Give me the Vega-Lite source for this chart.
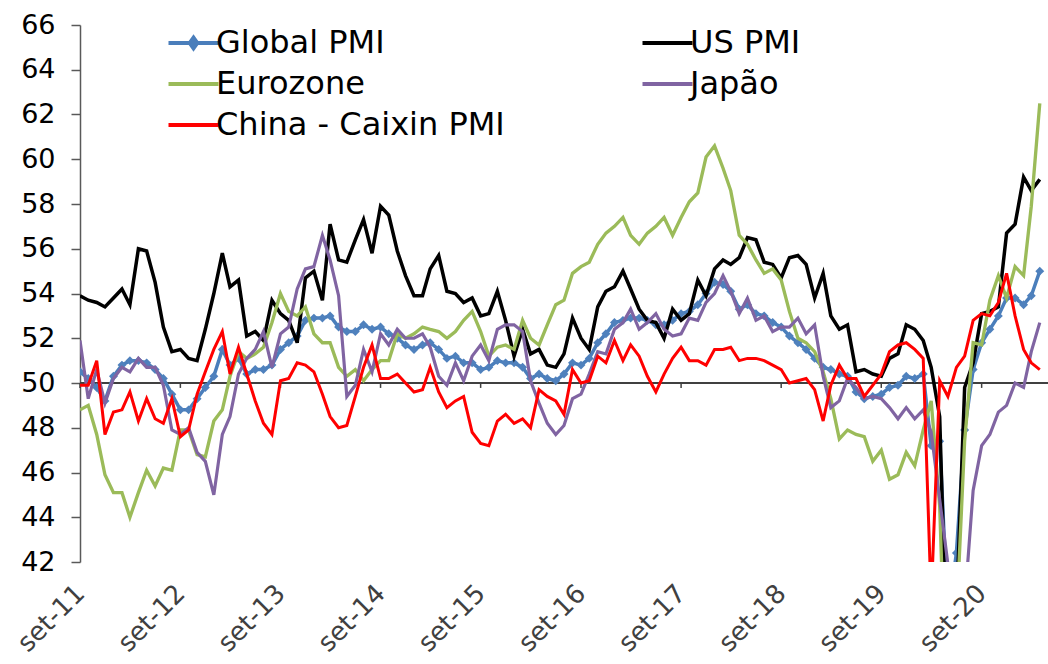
{
  "$schema": "https://vega.github.io/schema/vega-lite/v6.json",
  "width": 968,
  "height": 537,
  "autosize": {"type": "none"},
  "padding": {"left": 80, "top": 25, "right": 0, "bottom": 102},
  "background": "white",
  "config": {"view": {"stroke": null}, "font": "DejaVu Sans"},
  "data": {
    "format": {"parse": {"d": "date"}},
    "values": [
      {"d":"2011-09-01","Global PMI":50.5,"US PMI":53.9,"Eurozone":48.8,"Japão":51.9,"China - Caixin PMI":49.9},
      {"d":"2011-10-01","Global PMI":50.2,"US PMI":53.7,"Eurozone":49.0,"Japão":49.3,"China - Caixin PMI":49.9},
      {"d":"2011-11-01","Global PMI":49.8,"US PMI":53.6,"Eurozone":47.7,"Japão":50.6,"China - Caixin PMI":51.0},
      {"d":"2011-12-01","Global PMI":49.2,"US PMI":53.4,"Eurozone":45.9,"Japão":49.1,"China - Caixin PMI":47.7},
      {"d":"2012-01-01","Global PMI":50.3,"US PMI":53.8,"Eurozone":45.1,"Japão":50.2,"China - Caixin PMI":48.7},
      {"d":"2012-02-01","Global PMI":50.8,"US PMI":54.2,"Eurozone":45.1,"Japão":50.7,"China - Caixin PMI":48.8},
      {"d":"2012-03-01","Global PMI":51.0,"US PMI":53.5,"Eurozone":44.0,"Japão":50.5,"China - Caixin PMI":49.6},
      {"d":"2012-04-01","Global PMI":51.0,"US PMI":56.0,"Eurozone":45.1,"Japão":51.1,"China - Caixin PMI":48.3},
      {"d":"2012-05-01","Global PMI":50.9,"US PMI":55.9,"Eurozone":46.1,"Japão":50.7,"China - Caixin PMI":49.3},
      {"d":"2012-06-01","Global PMI":50.6,"US PMI":54.5,"Eurozone":45.4,"Japão":50.7,"China - Caixin PMI":48.4},
      {"d":"2012-07-01","Global PMI":50.2,"US PMI":52.5,"Eurozone":46.2,"Japão":49.9,"China - Caixin PMI":48.2},
      {"d":"2012-08-01","Global PMI":49.5,"US PMI":51.4,"Eurozone":46.1,"Japão":47.9,"China - Caixin PMI":49.3},
      {"d":"2012-09-01","Global PMI":48.8,"US PMI":51.5,"Eurozone":47.9,"Japão":47.7,"China - Caixin PMI":47.6},
      {"d":"2012-10-01","Global PMI":48.8,"US PMI":51.1,"Eurozone":47.9,"Japão":48.0,"China - Caixin PMI":47.9},
      {"d":"2012-11-01","Global PMI":49.3,"US PMI":51.0,"Eurozone":46.8,"Japão":46.9,"China - Caixin PMI":49.5},
      {"d":"2012-12-01","Global PMI":49.8,"US PMI":52.4,"Eurozone":46.7,"Japão":46.5,"China - Caixin PMI":50.5},
      {"d":"2013-01-01","Global PMI":50.3,"US PMI":54.0,"Eurozone":48.3,"Japão":45.0,"China - Caixin PMI":51.5},
      {"d":"2013-02-01","Global PMI":51.5,"US PMI":55.8,"Eurozone":48.8,"Japão":47.7,"China - Caixin PMI":52.3},
      {"d":"2013-03-01","Global PMI":50.8,"US PMI":54.3,"Eurozone":50.3,"Japão":48.5,"China - Caixin PMI":50.4},
      {"d":"2013-04-01","Global PMI":51.1,"US PMI":54.6,"Eurozone":51.4,"Japão":50.4,"China - Caixin PMI":51.6},
      {"d":"2013-05-01","Global PMI":50.4,"US PMI":52.1,"Eurozone":51.1,"Japão":51.1,"China - Caixin PMI":50.4},
      {"d":"2013-06-01","Global PMI":50.6,"US PMI":52.3,"Eurozone":51.3,"Japão":51.5,"China - Caixin PMI":49.2},
      {"d":"2013-07-01","Global PMI":50.6,"US PMI":51.9,"Eurozone":51.6,"Japão":52.3,"China - Caixin PMI":48.2},
      {"d":"2013-08-01","Global PMI":50.8,"US PMI":53.7,"Eurozone":52.7,"Japão":50.7,"China - Caixin PMI":47.7},
      {"d":"2013-09-01","Global PMI":51.5,"US PMI":53.1,"Eurozone":54.0,"Japão":52.2,"China - Caixin PMI":50.1},
      {"d":"2013-10-01","Global PMI":51.8,"US PMI":52.8,"Eurozone":53.2,"Japão":52.5,"China - Caixin PMI":50.2},
      {"d":"2013-11-01","Global PMI":52.1,"US PMI":51.8,"Eurozone":53.0,"Japão":54.2,"China - Caixin PMI":50.9},
      {"d":"2013-12-01","Global PMI":52.8,"US PMI":54.7,"Eurozone":53.4,"Japão":55.1,"China - Caixin PMI":50.8},
      {"d":"2014-01-01","Global PMI":52.9,"US PMI":55.0,"Eurozone":52.2,"Japão":55.2,"China - Caixin PMI":50.5},
      {"d":"2014-02-01","Global PMI":52.9,"US PMI":53.7,"Eurozone":51.8,"Japão":56.6,"China - Caixin PMI":49.5},
      {"d":"2014-03-01","Global PMI":53.0,"US PMI":57.1,"Eurozone":51.8,"Japão":55.5,"China - Caixin PMI":48.5},
      {"d":"2014-04-01","Global PMI":52.5,"US PMI":55.5,"Eurozone":50.7,"Japão":53.9,"China - Caixin PMI":48.0},
      {"d":"2014-05-01","Global PMI":52.3,"US PMI":55.4,"Eurozone":50.3,"Japão":49.4,"China - Caixin PMI":48.1},
      {"d":"2014-06-01","Global PMI":52.3,"US PMI":56.4,"Eurozone":50.6,"Japão":49.9,"China - Caixin PMI":49.4},
      {"d":"2014-07-01","Global PMI":52.6,"US PMI":57.3,"Eurozone":50.1,"Japão":51.5,"China - Caixin PMI":50.7},
      {"d":"2014-08-01","Global PMI":52.4,"US PMI":55.8,"Eurozone":50.6,"Japão":50.5,"China - Caixin PMI":51.7},
      {"d":"2014-09-01","Global PMI":52.5,"US PMI":57.9,"Eurozone":51.0,"Japão":52.2,"China - Caixin PMI":50.2},
      {"d":"2014-10-01","Global PMI":52.2,"US PMI":57.5,"Eurozone":51.0,"Japão":51.7,"China - Caixin PMI":50.2},
      {"d":"2014-11-01","Global PMI":52.0,"US PMI":55.9,"Eurozone":52.2,"Japão":52.4,"China - Caixin PMI":50.4},
      {"d":"2014-12-01","Global PMI":51.7,"US PMI":54.8,"Eurozone":52.0,"Japão":52.0,"China - Caixin PMI":50.0},
      {"d":"2015-01-01","Global PMI":51.5,"US PMI":53.9,"Eurozone":52.2,"Japão":52.0,"China - Caixin PMI":49.6},
      {"d":"2015-02-01","Global PMI":51.7,"US PMI":53.9,"Eurozone":52.5,"Japão":52.2,"China - Caixin PMI":49.7},
      {"d":"2015-03-01","Global PMI":51.8,"US PMI":55.1,"Eurozone":52.4,"Japão":51.6,"China - Caixin PMI":50.7},
      {"d":"2015-04-01","Global PMI":51.5,"US PMI":55.7,"Eurozone":52.3,"Japão":50.3,"China - Caixin PMI":49.6},
      {"d":"2015-05-01","Global PMI":51.1,"US PMI":54.1,"Eurozone":52.0,"Japão":49.9,"China - Caixin PMI":48.9},
      {"d":"2015-06-01","Global PMI":51.2,"US PMI":54.0,"Eurozone":52.3,"Japão":50.9,"China - Caixin PMI":49.2},
      {"d":"2015-07-01","Global PMI":50.9,"US PMI":53.6,"Eurozone":52.8,"Japão":50.1,"China - Caixin PMI":49.4},
      {"d":"2015-08-01","Global PMI":50.9,"US PMI":53.8,"Eurozone":53.2,"Japão":51.2,"China - Caixin PMI":47.8},
      {"d":"2015-09-01","Global PMI":50.6,"US PMI":53.0,"Eurozone":52.3,"Japão":51.7,"China - Caixin PMI":47.3},
      {"d":"2015-10-01","Global PMI":50.7,"US PMI":53.1,"Eurozone":51.2,"Japão":51.0,"China - Caixin PMI":47.2},
      {"d":"2015-11-01","Global PMI":51.0,"US PMI":54.1,"Eurozone":51.6,"Japão":52.4,"China - Caixin PMI":48.3},
      {"d":"2015-12-01","Global PMI":50.9,"US PMI":52.8,"Eurozone":51.7,"Japão":52.6,"China - Caixin PMI":48.6},
      {"d":"2016-01-01","Global PMI":50.9,"US PMI":51.2,"Eurozone":51.5,"Japão":52.6,"China - Caixin PMI":48.2},
      {"d":"2016-02-01","Global PMI":50.7,"US PMI":52.4,"Eurozone":52.8,"Japão":52.3,"China - Caixin PMI":48.4},
      {"d":"2016-03-01","Global PMI":50.2,"US PMI":51.3,"Eurozone":52.0,"Japão":50.1,"China - Caixin PMI":48.0},
      {"d":"2016-04-01","Global PMI":50.4,"US PMI":51.5,"Eurozone":51.7,"Japão":49.1,"China - Caixin PMI":49.7},
      {"d":"2016-05-01","Global PMI":50.2,"US PMI":50.8,"Eurozone":52.6,"Japão":48.2,"China - Caixin PMI":49.4},
      {"d":"2016-06-01","Global PMI":50.1,"US PMI":50.7,"Eurozone":53.5,"Japão":47.7,"China - Caixin PMI":49.2},
      {"d":"2016-07-01","Global PMI":50.4,"US PMI":51.3,"Eurozone":53.7,"Japão":48.1,"China - Caixin PMI":48.6},
      {"d":"2016-08-01","Global PMI":50.9,"US PMI":52.9,"Eurozone":54.9,"Japão":49.3,"China - Caixin PMI":50.6},
      {"d":"2016-09-01","Global PMI":50.8,"US PMI":52.0,"Eurozone":55.2,"Japão":49.5,"China - Caixin PMI":50.0},
      {"d":"2016-10-01","Global PMI":51.1,"US PMI":51.5,"Eurozone":55.4,"Japão":50.4,"China - Caixin PMI":50.1},
      {"d":"2016-11-01","Global PMI":51.8,"US PMI":53.4,"Eurozone":56.2,"Japão":51.4,"China - Caixin PMI":51.2},
      {"d":"2016-12-01","Global PMI":52.2,"US PMI":54.1,"Eurozone":56.7,"Japão":51.3,"China - Caixin PMI":50.9},
      {"d":"2017-01-01","Global PMI":52.7,"US PMI":54.3,"Eurozone":57.0,"Japão":52.4,"China - Caixin PMI":51.9},
      {"d":"2017-02-01","Global PMI":52.8,"US PMI":55.0,"Eurozone":57.4,"Japão":52.7,"China - Caixin PMI":51.0},
      {"d":"2017-03-01","Global PMI":52.9,"US PMI":54.2,"Eurozone":56.6,"Japão":53.3,"China - Caixin PMI":51.7},
      {"d":"2017-04-01","Global PMI":52.9,"US PMI":53.3,"Eurozone":56.2,"Japão":52.4,"China - Caixin PMI":51.2},
      {"d":"2017-05-01","Global PMI":52.8,"US PMI":52.8,"Eurozone":56.7,"Japão":52.7,"China - Caixin PMI":50.3},
      {"d":"2017-06-01","Global PMI":52.6,"US PMI":52.7,"Eurozone":57.0,"Japão":53.1,"China - Caixin PMI":49.6},
      {"d":"2017-07-01","Global PMI":52.6,"US PMI":52.0,"Eurozone":57.4,"Japão":52.4,"China - Caixin PMI":50.4},
      {"d":"2017-08-01","Global PMI":52.8,"US PMI":53.3,"Eurozone":56.6,"Japão":52.1,"China - Caixin PMI":51.1},
      {"d":"2017-09-01","Global PMI":53.1,"US PMI":52.8,"Eurozone":57.4,"Japão":52.2,"China - Caixin PMI":51.6},
      {"d":"2017-10-01","Global PMI":53.2,"US PMI":53.1,"Eurozone":58.1,"Japão":52.9,"China - Caixin PMI":51.0},
      {"d":"2017-11-01","Global PMI":53.5,"US PMI":54.6,"Eurozone":58.5,"Japão":52.8,"China - Caixin PMI":51.0},
      {"d":"2017-12-01","Global PMI":54.0,"US PMI":53.9,"Eurozone":60.1,"Japão":53.6,"China - Caixin PMI":50.8},
      {"d":"2018-01-01","Global PMI":54.5,"US PMI":55.1,"Eurozone":60.6,"Japão":54.0,"China - Caixin PMI":51.5},
      {"d":"2018-02-01","Global PMI":54.4,"US PMI":55.5,"Eurozone":59.6,"Japão":54.8,"China - Caixin PMI":51.5},
      {"d":"2018-03-01","Global PMI":54.1,"US PMI":55.3,"Eurozone":58.6,"Japão":54.1,"China - Caixin PMI":51.6},
      {"d":"2018-04-01","Global PMI":53.3,"US PMI":55.6,"Eurozone":56.6,"Japão":53.1,"China - Caixin PMI":51.0},
      {"d":"2018-05-01","Global PMI":53.5,"US PMI":56.5,"Eurozone":56.2,"Japão":53.8,"China - Caixin PMI":51.1},
      {"d":"2018-06-01","Global PMI":53.1,"US PMI":56.4,"Eurozone":55.5,"Japão":52.8,"China - Caixin PMI":51.1},
      {"d":"2018-07-01","Global PMI":53.0,"US PMI":55.4,"Eurozone":54.9,"Japão":53.0,"China - Caixin PMI":51.0},
      {"d":"2018-08-01","Global PMI":52.7,"US PMI":55.3,"Eurozone":55.1,"Japão":52.3,"China - Caixin PMI":50.8},
      {"d":"2018-09-01","Global PMI":52.5,"US PMI":54.7,"Eurozone":54.6,"Japão":52.5,"China - Caixin PMI":50.6},
      {"d":"2018-10-01","Global PMI":52.1,"US PMI":55.6,"Eurozone":53.2,"Japão":52.5,"China - Caixin PMI":50.0},
      {"d":"2018-11-01","Global PMI":51.8,"US PMI":55.7,"Eurozone":52.0,"Japão":52.9,"China - Caixin PMI":50.1},
      {"d":"2018-12-01","Global PMI":51.5,"US PMI":55.3,"Eurozone":51.8,"Japão":52.2,"China - Caixin PMI":50.2},
      {"d":"2019-01-01","Global PMI":51.1,"US PMI":53.8,"Eurozone":51.4,"Japão":52.6,"China - Caixin PMI":49.7},
      {"d":"2019-02-01","Global PMI":50.7,"US PMI":54.9,"Eurozone":50.5,"Japão":50.3,"China - Caixin PMI":48.3},
      {"d":"2019-03-01","Global PMI":50.6,"US PMI":53.0,"Eurozone":49.3,"Japão":48.9,"China - Caixin PMI":49.9},
      {"d":"2019-04-01","Global PMI":50.4,"US PMI":52.4,"Eurozone":47.5,"Japão":49.2,"China - Caixin PMI":50.8},
      {"d":"2019-05-01","Global PMI":50.3,"US PMI":52.6,"Eurozone":47.9,"Japão":50.2,"China - Caixin PMI":50.2},
      {"d":"2019-06-01","Global PMI":49.6,"US PMI":50.5,"Eurozone":47.7,"Japão":49.8,"China - Caixin PMI":50.2},
      {"d":"2019-07-01","Global PMI":49.3,"US PMI":50.6,"Eurozone":47.6,"Japão":49.3,"China - Caixin PMI":49.4},
      {"d":"2019-08-01","Global PMI":49.4,"US PMI":50.4,"Eurozone":46.5,"Japão":49.4,"China - Caixin PMI":49.9},
      {"d":"2019-09-01","Global PMI":49.5,"US PMI":50.3,"Eurozone":47.0,"Japão":49.3,"China - Caixin PMI":50.4},
      {"d":"2019-10-01","Global PMI":49.8,"US PMI":51.1,"Eurozone":45.7,"Japão":48.9,"China - Caixin PMI":51.4},
      {"d":"2019-11-01","Global PMI":49.9,"US PMI":51.3,"Eurozone":45.9,"Japão":48.4,"China - Caixin PMI":51.7},
      {"d":"2019-12-01","Global PMI":50.3,"US PMI":52.6,"Eurozone":46.9,"Japão":48.9,"China - Caixin PMI":51.8},
      {"d":"2020-01-01","Global PMI":50.2,"US PMI":52.4,"Eurozone":46.3,"Japão":48.4,"China - Caixin PMI":51.5},
      {"d":"2020-02-01","Global PMI":50.4,"US PMI":51.9,"Eurozone":47.9,"Japão":48.8,"China - Caixin PMI":51.1},
      {"d":"2020-03-01","Global PMI":47.2,"US PMI":50.7,"Eurozone":49.2,"Japão":47.8,"China - Caixin PMI":40.3},
      {"d":"2020-04-01","Global PMI":47.4,"US PMI":48.5,"Eurozone":44.5,"Japão":44.8,"China - Caixin PMI":50.1},
      {"d":"2020-05-01","Global PMI":39.6,"US PMI":36.1,"Eurozone":33.4,"Japão":41.9,"China - Caixin PMI":49.4},
      {"d":"2020-06-01","Global PMI":42.4,"US PMI":39.8,"Eurozone":39.4,"Japão":38.4,"China - Caixin PMI":50.7},
      {"d":"2020-07-01","Global PMI":47.9,"US PMI":49.8,"Eurozone":47.4,"Japão":40.1,"China - Caixin PMI":51.2},
      {"d":"2020-08-01","Global PMI":50.6,"US PMI":50.9,"Eurozone":51.8,"Japão":45.2,"China - Caixin PMI":52.8},
      {"d":"2020-09-01","Global PMI":51.8,"US PMI":53.1,"Eurozone":51.7,"Japão":47.2,"China - Caixin PMI":53.1},
      {"d":"2020-10-01","Global PMI":52.4,"US PMI":53.2,"Eurozone":53.7,"Japão":47.7,"China - Caixin PMI":53.0},
      {"d":"2020-11-01","Global PMI":53.0,"US PMI":53.4,"Eurozone":54.8,"Japão":48.7,"China - Caixin PMI":53.6},
      {"d":"2020-12-01","Global PMI":53.8,"US PMI":56.7,"Eurozone":53.8,"Japão":49.0,"China - Caixin PMI":54.9},
      {"d":"2021-01-01","Global PMI":53.8,"US PMI":57.1,"Eurozone":55.2,"Japão":50.0,"China - Caixin PMI":53.0},
      {"d":"2021-02-01","Global PMI":53.5,"US PMI":59.2,"Eurozone":54.8,"Japão":49.8,"China - Caixin PMI":51.5},
      {"d":"2021-03-01","Global PMI":53.9,"US PMI":58.6,"Eurozone":57.9,"Japão":51.4,"China - Caixin PMI":50.9},
      {"d":"2021-04-01","Global PMI":55.0,"US PMI":59.1,"Eurozone":62.5,"Japão":52.7,"China - Caixin PMI":50.6}
    ]
  },
  "transform": [
    {"fold": ["Global PMI", "US PMI", "Eurozone", "Japão", "China - Caixin PMI"], "as": ["k", "v"]}
  ],
  "layer": [
    {
      "mark": {"type": "rule", "color": "#404040", "strokeWidth": 1.5},
      "encoding": {
        "y": {"datum": 50, "type": "quantitative", "scale": {"domain": [42, 66], "nice": false, "zero": false}}
      }
    },
    {
      "transform": [{"filter": "datum.k === 'Global PMI' && utcmonth(datum.d) === 8"}],
      "mark": {"type": "rule", "color": "#404040", "strokeWidth": 1.5},
      "encoding": {
        "x": {"field": "d", "type": "temporal"},
        "y": {"datum": 50, "type": "quantitative"},
        "y2": {"datum": 49.78}
      }
    },
    {
      "transform": [{"filter": "datum.k === 'Global PMI'"}],
      "mark": {"type": "line", "strokeWidth": 3.5, "clip": true},
      "encoding": {
        "x": {
          "field": "d", "type": "temporal",
          "scale": {"type": "utc", "domain": [{"year": 2011, "month": 9, "date": 1, "utc": true}, {"year": 2021, "month": 5, "date": 1, "utc": true}]},
          "axis": {
            "title": null, "grid": false, "domain": false, "ticks": false,
            "values": [
              {"year": 2011, "month": 9, "date": 1, "utc": true},
              {"year": 2012, "month": 9, "date": 1, "utc": true},
              {"year": 2013, "month": 9, "date": 1, "utc": true},
              {"year": 2014, "month": 9, "date": 1, "utc": true},
              {"year": 2015, "month": 9, "date": 1, "utc": true},
              {"year": 2016, "month": 9, "date": 1, "utc": true},
              {"year": 2017, "month": 9, "date": 1, "utc": true},
              {"year": 2018, "month": 9, "date": 1, "utc": true},
              {"year": 2019, "month": 9, "date": 1, "utc": true},
              {"year": 2020, "month": 9, "date": 1, "utc": true}
            ],
            "labelExpr": "'set-' + utcFormat(datum.value, '%y')",
            "labelAngle": -45, "labelAlign": "right", "labelBaseline": "middle",
            "labelPadding": 27, "labelFont": "DejaVu Sans", "labelFontSize": 26,
            "labelColor": "#404040", "labelOverlap": false, "labelFlush": false, "labelBound": false
          }
        },
        "y": {
          "field": "v", "type": "quantitative",
          "scale": {"domain": [42, 66], "nice": false, "zero": false},
          "axis": {
            "title": null, "grid": false,
            "values": [42, 44, 46, 48, 50, 52, 54, 56, 58, 60, 62, 64, 66],
            "domainColor": "#595959", "domainWidth": 1.5,
            "tickColor": "#595959", "tickWidth": 1.5, "tickSize": 9,
            "labelFont": "DejaVu Sans", "labelFontSize": 27, "labelColor": "#000000",
            "labelPadding": 16, "labelFlush": false, "labelOverlap": false
          }
        },
        "color": {
          "field": "k", "type": "nominal",
          "scale": {
            "domain": ["Global PMI", "US PMI", "Eurozone", "Japão", "China - Caixin PMI"],
            "range": ["#4A7EBB", "#000000", "#9BBB59", "#8064A2", "#FF0000"]
          },
          "legend": {
            "title": null, "orient": "none", "legendX": 97.5, "legendY": 2,
            "direction": "horizontal",
            "columns": 2, "columnPadding": 129, "rowPadding": 9, "padding": 0,
            "symbolType": "M-2,0L2,0", "symbolSize": 625, "symbolStrokeWidth": 4,
            "labelFont": "DejaVu Sans", "labelFontSize": 32, "labelColor": "#000000",
            "labelOffset": 6.5, "labelLimit": 0,
            "encode": {
              "symbols": {
                "update": {
                  "shape": {"signal": "datum.value === 'Global PMI' ? 'M-2,0L2,0M0,-0.42L0.3,0L0,0.42L-0.3,0Z' : 'M-2,0L2,0'"},
                  "fill": {"signal": "datum.value === 'Global PMI' ? '#4A7EBB' : 'transparent'"},
                  "opacity": {"value": 1}
                }
              }
            }
          }
        }
      }
    },
    {
      "transform": [{"filter": "datum.k === 'Global PMI'"}],
      "mark": {"type": "point", "shape": "diamond", "filled": true, "size": 80, "color": "#4F81BD", "opacity": 1, "clip": true},
      "encoding": {
        "x": {"field": "d", "type": "temporal"},
        "y": {"field": "v", "type": "quantitative"}
      }
    },
    {
      "transform": [{"filter": "datum.k !== 'Global PMI'"}],
      "mark": {"type": "line", "clip": true},
      "encoding": {
        "x": {"field": "d", "type": "temporal"},
        "y": {"field": "v", "type": "quantitative"},
        "color": {"field": "k", "type": "nominal"},
        "strokeWidth": {
          "field": "k", "type": "nominal",
          "scale": {"domain": ["US PMI", "Eurozone", "Japão", "China - Caixin PMI"], "range": [3.5, 3, 3, 4]},
          "legend": null
        }
      }
    }
  ]
}
